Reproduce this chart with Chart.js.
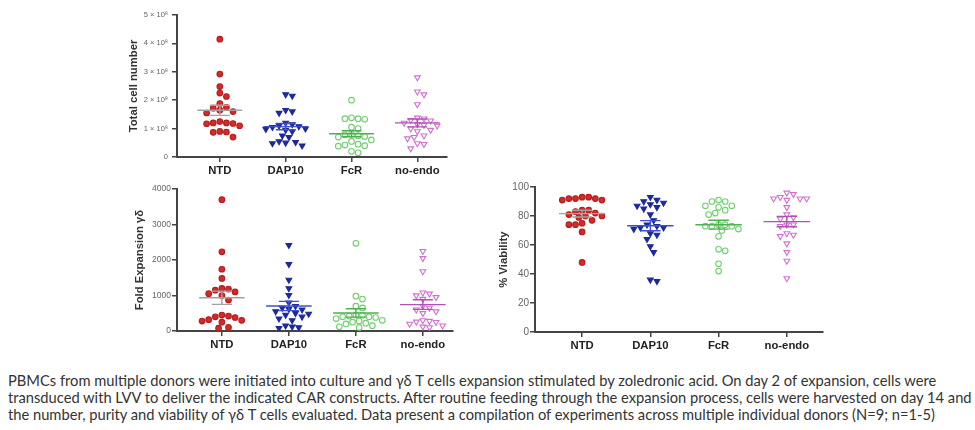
<!DOCTYPE html>
<html>
<head>
<meta charset="utf-8">
<script src="https://cdn.jsdelivr.net/npm/chart.js@4"></script>
<style>
  body { margin: 0; width: 975px; height: 430px; background: #fff; position: relative; overflow: hidden; }
  canvas { position: absolute; }
  #caption {
    position: absolute; left: 8px; top: 372px; margin: 0;
    font-family: Lato, "Open Sans", sans-serif; font-size: 14.7px; line-height: 17px;
    color: #333; white-space: nowrap;
  }
</style>
</head>
<body>
<canvas id="totalChart" width="333" height="180" style="left:127px;top:5px"></canvas>
<canvas id="foldChart" width="333" height="179" style="left:133px;top:180px"></canvas>
<canvas id="viabilityChart" width="339" height="182" style="left:497px;top:178px"></canvas>
<p id="caption">PBMCs from multiple donors were initiated into culture and γδ T cells expansion stimulated by zoledronic acid. On day 2 of expansion, cells were<br>transduced with LVV to deliver the indicated CAR constructs. After routine feeding through the expansion process, cells were harvested on day 14 and<br>the number, purity and viability of γδ T cells evaluated. Data present a compilation of experiments across multiple individual donors (N=9; n=1-5)</p>
<script>
  const groups = ["NTD", "DAP10", "FcR", "no-endo"];

  // Total cell number (x 10^8)
  const totalNTD = [4.15, 2.92, 2.48, 2.25, 2.13, 1.88, 1.75, 1.72, 1.65, 1.6, 1.55, 1.25, 1.2, 1.18, 1.17, 1.2, 1.1, 0.9, 0.88, 0.87, 0.7];
  const totalDAP10 = [2.2, 2.15, 1.65, 1.6, 1.55, 1.2, 1.15, 1.1, 1.08, 1.05, 1.0, 0.98, 0.95, 0.9, 0.75, 0.7, 0.55, 0.52, 0.5, 0.48, 0.4];
  const totalFcR = [2.0, 1.38, 1.35, 1.35, 1.33, 1.05, 1.0, 0.8, 0.78, 0.75, 0.72, 0.7, 0.6, 0.55, 0.45, 0.42, 0.4, 0.38, 0.2, 0.15];
  const totalNoEndo = [2.8, 2.3, 2.2, 1.85, 1.38, 1.35, 1.3, 1.28, 1.2, 1.15, 1.12, 1.1, 1.0, 0.95, 0.9, 0.75, 0.7, 0.65, 0.48, 0.45, 0.3];
  const totalTicks = [0, 1, 2, 3, 4, 5];

  // Fold expansion gamma-delta
  const foldNTD = [3700, 2230, 1740, 1480, 1200, 1180, 1150, 1100, 1050, 1000, 870, 450, 420, 400, 380, 320, 300, 280, 250, 100, 80];
  const foldDAP10 = [2420, 1880, 1440, 1200, 1010, 800, 700, 650, 620, 600, 550, 500, 480, 450, 400, 350, 300, 150, 120, 100, 80];
  const foldFcR = [2470, 980, 900, 700, 650, 450, 400, 450, 420, 400, 380, 350, 300, 280, 250, 220, 200, 150, 120, 100];
  const foldNoEndo = [2250, 2050, 1680, 1080, 1050, 1000, 950, 900, 700, 650, 600, 550, 500, 300, 280, 260, 250, 200, 150, 120, 100];
  const foldTicks = [0, 1000, 2000, 3000, 4000];

  // % viability
  const viaNTD = [93, 93, 92, 92, 92, 91, 91, 84, 84, 83, 82, 81, 80, 80, 79, 77, 75, 74, 74, 69, 48];
  const viaDAP10 = [93, 91, 90, 89, 88, 87, 86, 85, 81, 77, 74, 73, 72, 72, 71, 68, 67, 64, 59, 55, 36, 35];
  const viaFcR = [91, 90, 90, 87, 87, 86, 84, 82, 81, 74, 74, 73, 73, 73, 71, 70, 66, 57, 56, 47, 42];
  const viaNoEndo = [96, 95, 93, 92, 92, 92, 91, 86, 81, 79, 78, 74, 74, 73, 68, 67, 66, 61, 55, 49, 37];
  const viaTicks = [0, 20, 40, 60, 80, 100];

  const styles = [
    { shape: "circle", rot: 0, fill: "#d42a2a", edge: "#b51c1c", mean: "#a8a0a0" },
    { shape: "triangle", rot: 180, fill: "#1c2a9c", edge: "#1c2a9c", mean: "#4050c8" },
    { shape: "circle", rot: 0, fill: "rgba(255,255,255,0)", edge: "#6fcf6f", mean: "#4fb04f" },
    { shape: "triangle", rot: 180, fill: "rgba(255,255,255,0)", edge: "#cf70cf", mean: "#b050b0" },
  ];

  // spread points sideways so they don't overlap (prism style scatter)
  function swarm(values, pxPerVal, pxPerUnit, diam) {
    const placed = [];
    const offsets = new Array(values.length);
    const order = values.map((v, i) => i).sort((a, b) => values[b] - values[a]);
    for (const i of order) {
      const y = values[i] * pxPerVal;
      for (let k = 0; k < 60; k++) {
        const cand = k === 0 ? 0 : (k % 2 ? 1 : -1) * Math.ceil(k / 2) * diam / 2;
        if (placed.every((p) => Math.hypot(p.x - cand, p.y - y) >= diam * 0.95)) {
          placed.push({ x: cand, y });
          offsets[i] = cand / pxPerUnit;
          break;
        }
      }
    }
    return offsets;
  }

  function meanSem(values) {
    const n = values.length;
    const mean = values.reduce((a, b) => a + b, 0) / n;
    const sd = Math.sqrt(values.reduce((a, b) => a + (b - mean) ** 2, 0) / (n - 1));
    return { mean, sem: sd / Math.sqrt(n) };
  }

  function makePanel(canvasId, cfg) {
    const pxPerUnit = cfg.plotWidth / (cfg.xMax - cfg.xMin);
    const pxPerVal = cfg.plotHeight / cfg.yMax;
    const datasets = [];
    cfg.series.forEach((values, i) => {
      const st = styles[i];
      const offs = swarm(values, pxPerVal, pxPerUnit, 6.6);
      datasets.push({
        data: values.map((v, j) => ({ x: i + 1 + offs[j], y: v })),
        pointStyle: st.shape,
        rotation: st.rot,
        pointRadius: st.shape === "triangle" ? 3.3 : 2.8,
        backgroundColor: st.fill,
        borderColor: st.edge,
        borderWidth: 1.1,
        order: 2,
      });
      const { mean, sem } = meanSem(values);
      const c = i + 1;
      datasets.push({
        data: [
          { x: c - 0.34, y: mean }, { x: c + 0.34, y: mean }, { x: c, y: null },
          { x: c, y: mean - sem }, { x: c, y: mean + sem }, { x: c, y: null },
          { x: c - 0.15, y: mean + sem }, { x: c + 0.15, y: mean + sem }, { x: c, y: null },
          { x: c - 0.15, y: mean - sem }, { x: c + 0.15, y: mean - sem },
        ],
        showLine: true,
        spanGaps: false,
        pointRadius: 0,
        borderColor: st.mean,
        borderWidth: 1.4,
        order: 1,
      });
    });

    new Chart(document.getElementById(canvasId), {
      type: "scatter",
      data: { datasets },
      options: {
        responsive: false,
        devicePixelRatio: 1,
        animation: false,
        layout: { padding: { top: cfg.padTop, right: 13, left: 0, bottom: 0 } },
        plugins: { legend: { display: false }, tooltip: { enabled: false } },
        scales: {
          x: {
            type: "linear",
            min: cfg.xMin,
            max: cfg.xMax,
            afterBuildTicks: (scale) => { scale.ticks = groups.map((g, i) => ({ value: i + 1 })); },
            afterFit: (scale) => { scale.height = 28; },
            ticks: {
              callback: (v) => groups[v - 1],
              font: { family: "Liberation Sans", size: 11.3, weight: "bold" },
              color: "#222",
              padding: 2,
              maxRotation: 0,
            },
            grid: { drawOnChartArea: false, drawTicks: true, tickLength: 5, color: "#444", lineWidth: 1.5 },
            border: { color: "#444", width: 2 },
          },
          y: {
            min: 0,
            max: cfg.yMax,
            afterBuildTicks: (scale) => { scale.ticks = cfg.ticks.map((v) => ({ value: v })); },
            afterFit: (scale) => { scale.width = cfg.yWidth; },
            ticks: {
              callback: cfg.tickFormat || ((v) => String(v)),
              font: { family: "Liberation Sans", size: cfg.tickSize },
              color: "#666",
              padding: cfg.tickPad,
            },
            grid: { drawOnChartArea: false, drawTicks: true, tickLength: 5, color: "#444", lineWidth: 1.5 },
            border: { color: "#444", width: 2 },
            title: {
              display: true,
              text: cfg.title,
              font: { family: "Liberation Sans", size: 11.3, weight: "bold" },
              color: "#333",
              padding: 0,
            },
          },
        },
      },
    });
  }

  makePanel("totalChart", {
    series: [totalNTD, totalDAP10, totalFcR, totalNoEndo],
    ticks: totalTicks, yMax: 5, xMin: 0.35, xMax: 4.45,
    plotWidth: 270, plotHeight: 142, padTop: 10, yWidth: 50, tickSize: 7.5, tickPad: 4,
    title: "Total cell number",
    tickFormat: (v) => (v === 0 ? "0" : v + " × 10⁸"),
  });

  makePanel("foldChart", {
    series: [foldNTD, foldDAP10, foldFcR, foldNoEndo],
    ticks: foldTicks, yMax: 4000, xMin: 0.33, xMax: 4.45,
    plotWidth: 276, plotHeight: 142, padTop: 9, yWidth: 44, tickSize: 8.5, tickPad: 1,
    title: "Fold Expansion γδ",
  });

  makePanel("viabilityChart", {
    series: [viaNTD, viaDAP10, viaFcR, viaNoEndo],
    ticks: viaTicks, yMax: 100, xMin: 0.31, xMax: 4.53,
    plotWidth: 288, plotHeight: 145, padTop: 9, yWidth: 38, tickSize: 10, tickPad: 1,
    title: "% Viability",
  });
</script>
</body>
</html>
